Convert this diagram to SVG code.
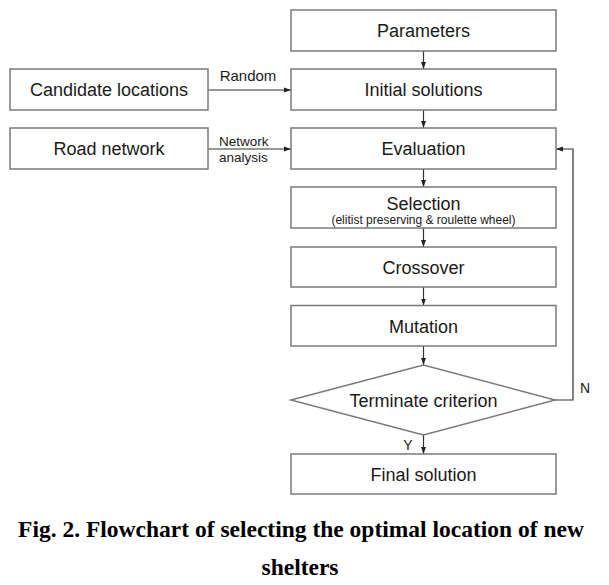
<svg xmlns="http://www.w3.org/2000/svg" width="609" height="585" viewBox="0 0 609 585">
<defs>
<style>
.box{fill:#fff;stroke:#7a7a7a;stroke-width:1.5}
.t{font-family:"Liberation Sans",Arial,sans-serif;font-size:18px;fill:#1a1a1a;text-anchor:middle}
.s{font-family:"Liberation Sans",Arial,sans-serif;font-size:12px;fill:#1a1a1a;text-anchor:middle}
.l{font-family:"Liberation Sans",Arial,sans-serif;font-size:14px;fill:#1a1a1a}
.c{font-family:"Liberation Serif","Times New Roman",serif;font-weight:bold;font-size:23.5px;fill:#000;text-anchor:middle}
.ln{fill:none;stroke:#333;stroke-width:1.2}
</style>
<marker id="ah" viewBox="0 0 10 10" refX="10" refY="5" markerWidth="7" markerHeight="7" orient="auto" markerUnits="userSpaceOnUse">
<path d="M0,1.5 L10,5 L0,8.5 z" fill="#222"/>
</marker>
</defs>
<rect width="609" height="585" fill="#fff"/>
<g id="connectors">
<line class="ln" x1="423.5" y1="51" x2="423.5" y2="69" marker-end="url(#ah)"/>
<line class="ln" x1="423.5" y1="110" x2="423.5" y2="128" marker-end="url(#ah)"/>
<line class="ln" x1="423.5" y1="169" x2="423.5" y2="187" marker-end="url(#ah)"/>
<line class="ln" x1="423.5" y1="228" x2="423.5" y2="247" marker-end="url(#ah)"/>
<line class="ln" x1="423.5" y1="287" x2="423.5" y2="305.5" marker-end="url(#ah)"/>
<line class="ln" x1="423.5" y1="346" x2="423.5" y2="365" marker-end="url(#ah)"/>
<line class="ln" x1="423.5" y1="435" x2="423.5" y2="454" marker-end="url(#ah)"/>
<line class="ln" x1="208" y1="90" x2="291" y2="90" marker-end="url(#ah)"/>
<line class="ln" x1="208" y1="149" x2="291" y2="149" marker-end="url(#ah)"/>
<polyline class="ln" points="555,400 573,400 573,149 556,149" marker-end="url(#ah)"/>
<text class="l" x="248" y="80.5" text-anchor="middle" style="font-size:15px">Random</text>
<text class="l" x="219" y="145.5" style="font-size:13.5px">Network</text>
<text class="l" x="219" y="161.5" style="font-size:13.5px">analysis</text>
<text class="l" x="408" y="450" text-anchor="middle">Y</text>
<text class="l" x="585" y="393" text-anchor="middle">N</text>
</g>
<g id="parameters"><rect class="box" x="291" y="10" width="265" height="41"/><text class="t" x="423.5" y="37">Parameters</text></g>
<g id="initial"><rect class="box" x="291" y="69" width="265" height="41"/><text class="t" x="423.5" y="96">Initial solutions</text></g>
<g id="candidate"><rect class="box" x="10" y="69" width="198" height="41"/><text class="t" x="109" y="96">Candidate locations</text></g>
<g id="evaluation"><rect class="box" x="291" y="128" width="265" height="41"/><text class="t" x="423.5" y="155">Evaluation</text></g>
<g id="road"><rect class="box" x="10" y="128" width="198" height="41"/><text class="t" x="109" y="155">Road network</text></g>
<g id="selection"><rect class="box" x="291" y="187" width="265" height="41"/><text class="t" x="423.5" y="209.5">Selection</text><text class="s" x="423.5" y="224">(elitist preserving &amp; roulette wheel)</text></g>
<g id="crossover"><rect class="box" x="291" y="247" width="265" height="40"/><text class="t" x="423.5" y="274">Crossover</text></g>
<g id="mutation"><rect class="box" x="291" y="305.5" width="265" height="40.5"/><text class="t" x="423.5" y="332.5">Mutation</text></g>
<g id="terminate"><polygon class="box" points="291,400 423.5,365 555,400 423.5,435"/><text class="t" x="423.5" y="406.5">Terminate criterion</text></g>
<g id="final"><rect class="box" x="291" y="454" width="265" height="40"/><text class="t" x="423.5" y="481">Final solution</text></g>
<g id="caption">
<text class="c" x="301" y="537">Fig. 2. Flowchart of selecting the optimal location of new</text>
<text class="c" x="300" y="575">shelters</text>
</g>
</svg>
